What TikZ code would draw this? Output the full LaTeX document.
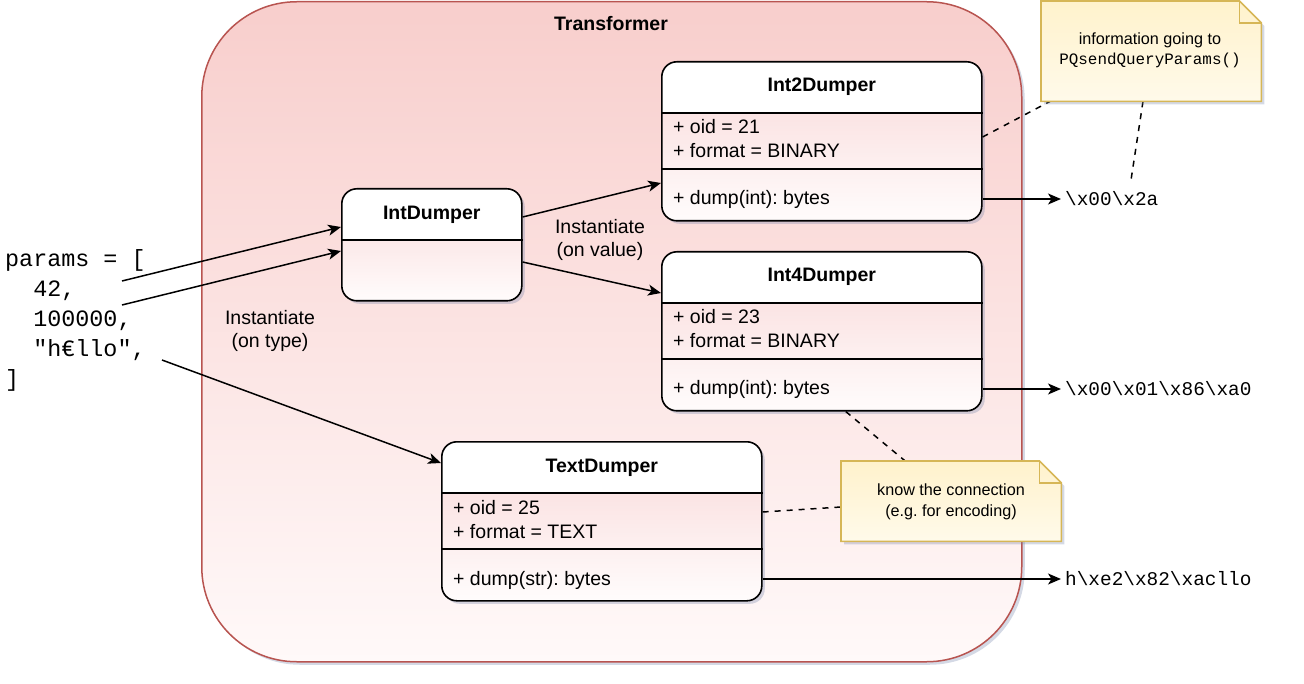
\documentclass[tikz,border=0pt]{standalone}
\usepackage{fontspec}
\setmainfont{Liberation Sans}
\setmonofont{Liberation Mono}
\usetikzlibrary{arrows.meta,shadows}
\frenchspacing
\definecolor{contfill}{HTML}{F8CECC}
\definecolor{contbot}{HTML}{FFF9F9}
\definecolor{contline}{HTML}{B85450}
\definecolor{notefill}{HTML}{FFF2CC}
\definecolor{notebot}{HTML}{FFFAEA}
\definecolor{noteline}{HTML}{D6B656}
\definecolor{bodytop}{HTML}{F9D8D8}
\definecolor{bodybot}{HTML}{FFFCFC}
\definecolor{shadowc}{HTML}{7080A8}
\newcommand\bs{\textbackslash}
\newcommand\umlclass[7]{%
  \node[classbox,minimum width=320pt,minimum height=159pt] (#1) at (#2,#3) {};
  \draw[sepline] ([yshift=-52pt]#1.north west) -- ([yshift=-52pt]#1.north east);
  \draw[sepline] ([yshift=-108pt]#1.north west) -- ([yshift=-108pt]#1.north east);
  \node[ctitle] (#1-t) at ([yshift=-31pt]#1.north) {#4};
  \node[member] (#1-a) at ([xshift=12pt,yshift=-73pt]#1.north west) {#5};
  \node[member] (#1-b) at ([xshift=12pt,yshift=-97pt]#1.north west) {#6};
  \node[member] (#1-m) at ([xshift=12pt,yshift=-144pt]#1.north west) {#7};
}
\begin{document}
\begin{tikzpicture}[x=1pt,y=-1pt,
  myshadow/.style={drop shadow={shadow xshift=3pt,shadow yshift=-3pt,fill=shadowc,opacity=0.3}},
  container/.style={draw=contline,line width=1.5pt,rounded corners=95pt,top color=contfill,bottom color=contbot,myshadow,anchor=north west,inner sep=0pt,minimum width=820pt,minimum height=660pt},
  classbox/.style={draw=black,line width=1.6pt,fill=white,rounded corners=15pt,anchor=north west,inner sep=0pt,myshadow,
    path picture={\shade[sharp corners,top color=bodytop,bottom color=bodybot] ([yshift=-52pt]path picture bounding box.north west) rectangle (path picture bounding box.south east);}},
  sepline/.style={line width=1.6pt},
  sans/.style={font=\fontsize{19.5pt}{23.5pt}\selectfont,inner sep=0pt},
  ctitle/.style={inner sep=0pt,font=\fontsize{19.5pt}{23.5pt}\selectfont\bfseries,anchor=base},
  member/.style={sans,anchor=base west},
  param/.style={font=\ttfamily\fontsize{23.4pt}{30pt}\selectfont,inner sep=0pt,anchor=base west},
  outtxt/.style={font=\ttfamily\fontsize{19.4pt}{23pt}\selectfont,inner sep=0pt,anchor=west},
  notebox/.style={anchor=north west,inner sep=0pt},
  notedraw/.style={draw=noteline,line width=1.6pt,top color=notefill,bottom color=notebot,myshadow},
  notefold/.style={draw=noteline,line width=1.6pt},
  notetxt/.style={font=\fontsize{16.2pt}{20pt}\selectfont,inner sep=0pt,anchor=base},
  notemono/.style={font=\ttfamily\fontsize{15.9pt}{20pt}\selectfont,inner sep=0pt,anchor=base},
  arr/.style={line width=1.5pt,-{Stealth[length=13pt,width=11pt,inset=3.5pt]}},
  dashline/.style={line width=1.5pt,dash pattern=on 6pt off 6pt}
]
\useasboundingbox (0,0) rectangle (1304,684);
% container
\node[container] (trans) at (201,1) {};
\node[ctitle] (transtitle) at (611,31) {Transformer};
% classes
\umlclass{int2}{661}{61}{Int2Dumper}{+ oid = 21}{+ format = BINARY}{+ dump(int): bytes}
\umlclass{int4}{661}{251}{Int4Dumper}{+ oid = 23}{+ format = BINARY}{+ dump(int): bytes}
\umlclass{textd}{441}{441}{TextDumper}{+ oid = 25}{+ format = TEXT}{+ dump(str): bytes}
\node[classbox,minimum width=180pt,minimum height=112pt] (intd) at (341,188) {};
\draw[sepline] ([yshift=-52pt]intd.north west) -- ([yshift=-52pt]intd.north east);
\node[ctitle] (intd-t) at ([yshift=-32pt]intd.north) {IntDumper};
% params
\node[param] (p1) at (5,267) {params = [};
\node[param] (p2) at (5,297) {\hphantom{00}42,};
\node[param] (p3) at (5,327) {\hphantom{00}100000,};
\node[param] (p4) at (5,357) {\hphantom{00}"h€llo",};
\node[param] (p5) at (5,387) {]};
\coordinate (s1) at (122,281);
\coordinate (s2) at (122,305);
\coordinate (s3) at (162,360);
\draw[arr] (s1) -- ([yshift=-39pt]intd.north west);
\draw[arr] (s2) -- ([yshift=-63pt]intd.north west);
\draw[arr] (s3) -- ([yshift=-22pt]textd.north west);
\draw[arr] ([yshift=-29pt]intd.north east) -- ([yshift=-122pt]int2.north west);
\draw[arr] ([yshift=-74pt]intd.north east) -- ([yshift=-42pt]int4.north west);
% labels
\node[sans,align=center] (lv) at (600,240) {Instantiate\\(on value)};
\node[sans,align=center] (lt) at (270,331) {Instantiate\\(on type)};
% outputs
\node[outtxt] (o1) at (1065,199) {\bs x00\bs x2a};
\node[outtxt] (o2) at (1065,389) {\bs x00\bs x01\bs x86\bs xa0};
\node[outtxt] (o3) at (1065,579) {h\bs xe2\bs x82\bs xacllo};
\draw[arr] ([yshift=-138pt]int2.north east) -- ([xshift=-4pt]o1.west);
\draw[arr] ([yshift=-138pt]int4.north east) -- ([xshift=-4pt]o2.west);
\draw[arr] ([yshift=-138pt]textd.north east) -- ([xshift=-4pt]o3.west);
% notes
\node[notebox,minimum width=220pt,minimum height=100pt] (n1) at (1041,1) {};
\node[notebox,minimum width=220pt,minimum height=80pt] (n2) at (841,461) {};
\coordinate (d1) at (1131,180);
\draw[dashline] ([yshift=-76pt]int2.north east) -- ([xshift=9pt]n1.south west);
\draw[dashline] ([xshift=102pt]n1.south west) -- (d1);
\draw[dashline] ([xshift=24pt]int4.south) -- ([xshift=-46pt]n2.north);
\draw[dashline] ([yshift=-71pt]textd.north east) -- ([yshift=-46pt]n2.north west);
\draw[notedraw] (n1.north west) -- ([xshift=-22pt]n1.north east) -- ([yshift=-22pt]n1.north east) -- (n1.south east) -- (n1.south west) -- cycle;
\draw[notefold] ([xshift=-22pt]n1.north east) -- ([xshift=-22pt,yshift=-22pt]n1.north east) -- ([yshift=-22pt]n1.north east);
\draw[notedraw] (n2.north west) -- ([xshift=-22pt]n2.north east) -- ([yshift=-22pt]n2.north east) -- (n2.south east) -- (n2.south west) -- cycle;
\draw[notefold] ([xshift=-22pt]n2.north east) -- ([xshift=-22pt,yshift=-22pt]n2.north east) -- ([yshift=-22pt]n2.north east);
\node[notetxt] (n1a) at (1150,45) {information going to};
\node[notemono] (n1b) at (1150,65) {PQsendQueryParams()};
\node[notetxt] (n2a) at (951,495) {know the connection};
\node[notetxt] (n2b) at (951,516) {(e.g. for encoding)};
\end{tikzpicture}
\end{document}
